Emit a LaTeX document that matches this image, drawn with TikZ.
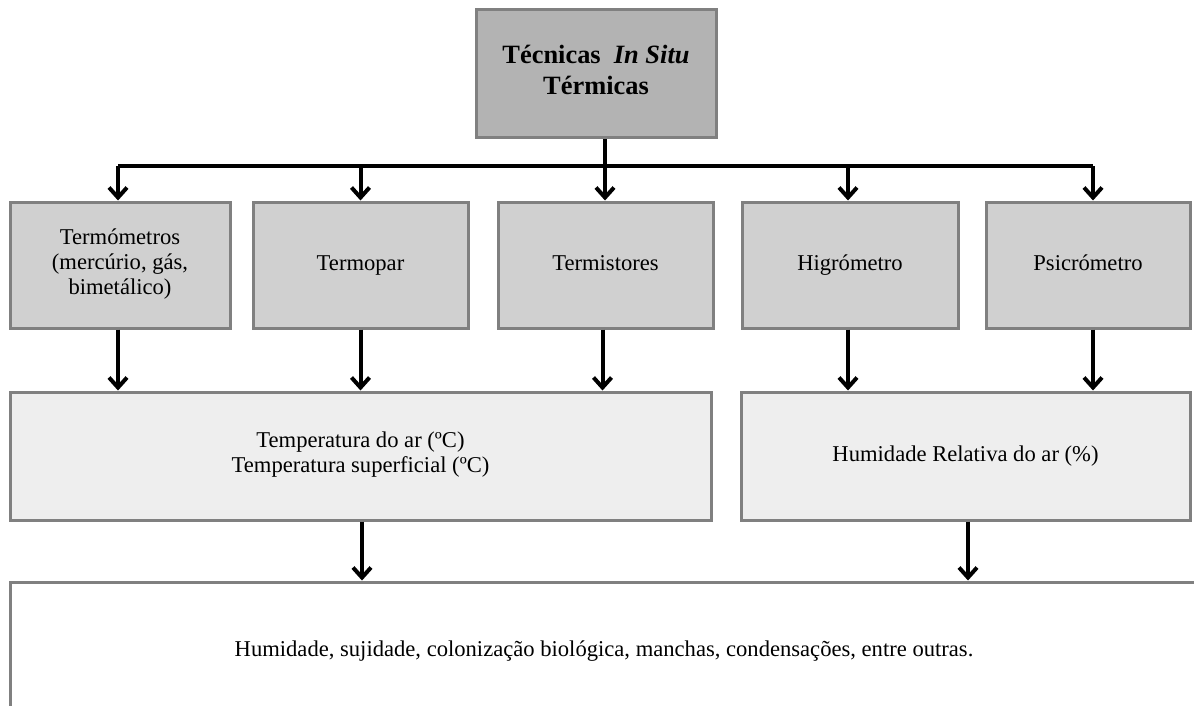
\documentclass[tikz,border=0pt]{standalone}
\usepackage{fontspec}
\setmainfont{Liberation Serif}
\usetikzlibrary{arrows.meta}
\definecolor{boxline}{HTML}{808080}
\definecolor{topfill}{HTML}{B3B3B3}
\definecolor{toolfill}{HTML}{D0D0D0}
\definecolor{resfill}{HTML}{EEEEEE}
\tikzset{
  box/.style={draw=boxline, line width=1.5pt, inner sep=2pt, align=center, font=\fontsize{11.3}{12.5}\selectfont, execute at begin node={\strut}},
  tool/.style={box, fill=toolfill, minimum height=63pt},
  result/.style={box, fill=resfill, minimum height=64pt},
  arr/.style={line width=2pt, -{Straight Barb[length=5pt, width=9pt, line width=2pt]}}
}
\begin{document}
\begin{tikzpicture}[x=0.5pt, y=-0.5pt]
  \useasboundingbox (0,0) rectangle (1194,706);
  \node[box, fill=topfill, minimum width=120pt, minimum height=64pt, font=\fontsize{13.2}{15.5}\selectfont\bfseries] (top) at (596,74) {Técnicas \ \textit{In Situ}\\Térmicas};

  \node[tool, minimum width=110pt] (termo) at (120,265) {Termómetros\\(mercúrio, gás,\\bimetálico)};
  \node[tool, minimum width=107.5pt] (par) at (360.5,265) {Termopar};
  \node[tool, minimum width=107.5pt] (stores) at (605.5,265) {Termistores};
  \node[tool, minimum width=108pt] (higro) at (850,265) {Higrómetro};
  \node[tool, minimum width=102pt] (psi) at (1088,265) {Psicrómetro};

  \node[result, minimum width=350.5pt] (temp) at (360.5,456) {Temperatura do ar (ºC)\\Temperatura superficial (ºC)};
  \node[result, minimum width=224.5pt] (hum) at (965.5,456) {Humidade Relativa do ar (\%)};

  \node[box, fill=white, minimum width=594pt, minimum height=69pt] (efeitos) at (604,651) {Humidade, sujidade, colonização biológica, manchas, condensações, entre outras.};

  \coordinate (bar) at (605,166);
  \draw[line width=2pt] (top.south -| bar) -- (bar);
  \draw[line width=2pt] ([xshift=-1pt]bar -| termo.center) -- ([xshift=2.5pt]bar -| psi.center);
  \draw[arr] ([xshift=-1pt]bar -| termo.center) -- ([xshift=-1pt]termo.north);
  \draw[arr] (bar -| par) -- (par);
  \draw[arr] (bar) -- (bar |- stores.north);
  \draw[arr] ([xshift=-1pt]bar -| higro) -- ([xshift=-1pt]higro.north);
  \draw[arr] ([xshift=2.5pt]bar -| psi) -- ([xshift=2.5pt]psi.north);

  \draw[arr] ([xshift=-1pt]termo.south) -- ([xshift=-1pt]termo.south |- temp.north);
  \draw[arr] (par) -- (par |- temp.north);
  \draw[arr] ([xshift=-1.5pt]stores.south) -- ([xshift=-1.5pt]stores.south |- temp.north);
  \draw[arr] ([xshift=-1pt]higro.south) -- ([xshift=-1pt]higro.south |- hum.north);
  \draw[arr] ([xshift=2.5pt]psi.south) -- ([xshift=2.5pt]psi.south |- hum.north);

  \draw[arr] ([xshift=0.75pt]temp.south) -- ([xshift=0.75pt]temp.south |- efeitos.north);
  \draw[arr] ([xshift=1.25pt]hum.south) -- ([xshift=1.25pt]hum.south |- efeitos.north);
\end{tikzpicture}
\end{document}
